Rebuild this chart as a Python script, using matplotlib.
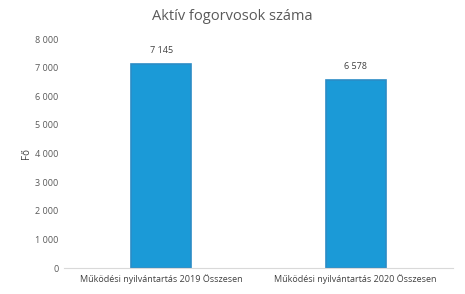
import matplotlib
matplotlib.use("Agg")
import matplotlib.pyplot as plt

categories = ["Működési nyilvántartás 2019 Összesen", "Működési nyilvántartás 2020 Összesen"]
values = [7145, 6578]
value_labels = ["7 145", "6 578"]
y_ticks = [0, 1000, 2000, 3000, 4000, 5000, 6000, 7000, 8000]
y_tick_labels = ["0", "1 000", "2 000", "3 000", "4 000", "5 000", "6 000", "7 000", "8 000"]

plt.rcParams['font.family'] = ['Open Sans', 'DejaVu Sans']

fig = plt.figure(figsize=(4.65, 2.94), dpi=100)
ax = fig.add_axes([0.138, 0.088, 0.836, 0.779])

x = range(len(categories))
ax.bar(x, values, width=0.31, color="#1b9ad7", edgecolor="#2b8cc6", linewidth=1.2)
for i, v in enumerate(values):
    ax.text(i, v + 300, value_labels[i], ha="center", va="bottom", fontsize=6.5, color="#404040")

ax.set_xlim(-0.5, 1.5)
ax.set_ylim(0, 8000)
ax.set_yticks(y_ticks)
ax.set_yticklabels(y_tick_labels, fontsize=6.5, color="#595959")
ax.set_xticks(list(x))
ax.set_xticklabels(categories, fontsize=6.5, color="#404040")
ax.tick_params(length=0, pad=4)
ax.set_ylabel("Fő", fontsize=7, color="#404040", labelpad=2)
fig.text(0.5, 1 - 17 / 294, "Aktív fogorvosok száma", ha="center", va="center",
         fontsize=10.5, color="#595959")

for s in ["top", "right", "left"]:
    ax.spines[s].set_visible(False)
ax.spines["bottom"].set_color("#d9d9d9")

fig.savefig("out.png", dpi=100)
